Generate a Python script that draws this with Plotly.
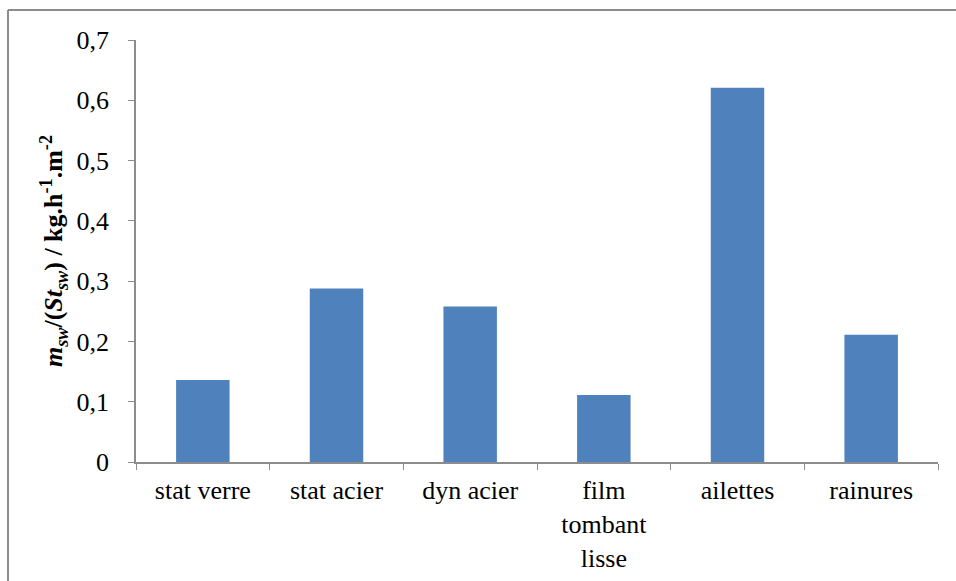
import plotly.graph_objects as go

categories = ["stat verre", "stat acier", "dyn acier", "film<br>tombant<br>lisse", "ailettes", "rainures"]
values = [0.136, 0.288, 0.258, 0.111, 0.621, 0.211]
y_ticks = [0, 0.1, 0.2, 0.3, 0.4, 0.5, 0.6, 0.7]

SERIF = "Times New Roman, Liberation Serif, serif"

fig = go.Figure()
fig.add_trace(
    go.Bar(
        x=categories,
        y=values,
        marker=dict(color="#4F81BD", line=dict(width=0)),
    )
)

# outer chart frame: only the left and top edges show in the crop
frame = dict(color="#8c8c8c", width=2)
fig.add_shape(type="line", xref="paper", yref="paper",
              x0=-0.1596, x1=-0.1596, y0=-0.4, y1=1.0711, line=frame)
fig.add_shape(type="line", xref="paper", yref="paper",
              x0=-0.1596, x1=1.1, y0=1.0711, y1=1.0711, line=frame)

fig.update_layout(
    width=956,
    height=581,
    autosize=False,
    margin=dict(l=136, r=18, t=40, b=119),
    plot_bgcolor="white",
    paper_bgcolor="white",
    separators=", ",
    bargap=0.6,
    showlegend=False,
    font=dict(family=SERIF, size=26, color="black"),
    xaxis=dict(
        type="category",
        showline=True,
        linecolor="#8c8c8c",
        linewidth=1.5,
        ticks="outside",
        tickson="boundaries",
        ticklen=6,
        tickcolor="#8c8c8c",
        showgrid=False,
        automargin=False,
        ticklabelstandoff=4,
        tickfont=dict(family=SERIF, size=26, color="black"),
    ),
    yaxis=dict(
        range=[0, 0.7],
        tickvals=y_ticks,
        tickformat=".1~f",
        showline=True,
        linecolor="#8c8c8c",
        linewidth=1.5,
        ticks="outside",
        ticklen=6,
        tickcolor="#8c8c8c",
        showgrid=False,
        zeroline=False,
        automargin=False,
        ticklabelstandoff=14,
        tickfont=dict(family=SERIF, size=26, color="black"),
        title=dict(
            text="<b><i>m</i><sub><i>sw</i></sub>/(<i>St</i><sub><i>sw</i></sub>) / kg.h<sup>-1</sup>.m<sup>-2</sup></b>",
            font=dict(family=SERIF, size=26, color="black"),
            standoff=6,
        ),
    ),
)

fig.write_html(
    "out.html",
    config={"displayModeBar": False},
    post_script="document.body.style.margin='0';document.body.style.overflow='hidden';",
)
